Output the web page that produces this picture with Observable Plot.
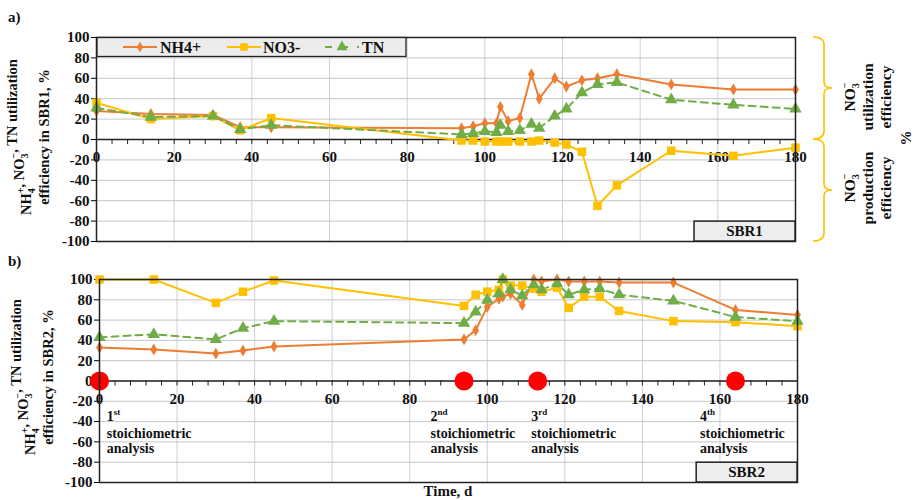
<!DOCTYPE html>
<html><head><meta charset="utf-8">
<script src="https://cdn.jsdelivr.net/npm/d3@7"></script>
<script src="https://cdn.jsdelivr.net/npm/@observablehq/plot@0.6"></script>
<style>
body{margin:0;background:#fff;}
#wrap{position:relative;width:917px;height:500px;font-family:"Liberation Serif",serif;}
#wrap svg{position:absolute;left:0;overflow:visible;background:none;}
#wrap svg text{font-family:"Liberation Serif",serif !important;font-weight:bold;}
</style></head><body><div id="wrap"></div>
<script>
// ---------- data ----------
const days     = [0,14,30,37,45,94,97,100,103,104,106,109,112,114,118,121,125,129,134,148,164,180];
const nh4SBR1  = [28,25,24,12,12,11,13,16,16,32,18,21,64,40,60,52,58,60,64,54,49,49];
const no3SBR1  = [36,20,23,9,21,-1,-1,-2,-2,-2,-2,-2,-2,-1,-3,-5,-12,-65,-45,-11,-16,-8];
const tnSBR1   = [31,22,23,10,14,5,6,8,7,14,8,9,15,11,23,30,46,54,56,39,34,30];
const nh4SBR2  = [33,31,27,30,34,41,50,73,81,83,86,75,100,98,100,98,98,98,97,97,70,65];
const no3SBR2  = [100,100,77,88,99,74,85,88,90,100,94,94,91,88,92,72,83,83,69,59,58,54];
const tnSBR2   = [43,46,41,52,59,57,68,80,86,100,90,84,95,90,96,85,90,91,85,79,63,59];
const seriesNames = ["NH4+","NO3-","TN"];
const xTicks = [0,20,40,60,80,100,120,140,160,180];
const yTicks = [-100,-80,-60,-40,-20,0,20,40,60,80,100];
const minorTicks = d3.range(0,181,4);
const analysisDays = [0,94,113,164];
const ordinalNums = ["1","2","3","4"];
const ordinalSuffix = ["st","nd","rd","th"];
const analysisLabelDays = [2,85.5,111.5,155];

// ---------- style ----------
const colors = ["#ED7D31","#FFC000","#70AD47"];
const symbols = ["diamond","square","triangle"];
const radii = [3.6,4.8,4.6];
const FONT = "Liberation Serif";

function rows(vals){ return days.map((d,i)=>({day:d, v:vals[i]})); }

function makePanel(series, cfg){
  const marks = [
    Plot.gridX(xTicks.slice(1,-1), {stroke:"#c9d0e0", strokeOpacity:1}),
    Plot.gridY(yTicks.slice(1,-1), {stroke:"#c6c6c6", strokeOpacity:1}),
    Plot.ruleY([0], {stroke:"#222", strokeWidth:1.3}),
    Plot.ruleX(minorTicks, {x:d=>d, y1:0, y2:-5, stroke:"#222", strokeWidth:1}),
    Plot.axisY({ticks:yTicks, tickFormat:d=>String(d), tickSize:5, tickPadding:2, label:null, fontSize:15, fontWeight:"bold", fontFamily:FONT, fill:"#111"}),
    Plot.text(xTicks, {x:d=>d, y:0, dy:18, text:d=>String(d), fontSize:15, fontWeight:"bold", fontFamily:FONT, fill:"#111"}),
  ];
  series.forEach((vals,i)=>{
    marks.push(Plot.line(rows(vals), {x:"day", y:"v", stroke:colors[i], strokeWidth:2, strokeDasharray: i===2 ? "7,5" : null}));
  });
  series.forEach((vals,i)=>{
    marks.push(Plot.dot(rows(vals), {x:"day", y:"v", symbol:symbols[i], r:radii[i], fill:colors[i], stroke:null}));
  });
  if (cfg.events) marks.push(Plot.dot(analysisDays, {x:d=>d, y:0, r:9.5, fill:"#ff0000"}));
  marks.push(Plot.frame({stroke:"#222", strokeWidth:1.5}));
  return Plot.plot({
    width:917, height:cfg.height,
    marginLeft:cfg.ml, marginRight:cfg.mr, marginTop:cfg.mt, marginBottom:cfg.mb,
    x:{domain:[0,180], axis:null},
    y:{domain:[-100,100], axis:null},
    style:{fontFamily:FONT, background:"none", overflow:"visible"},
    marks
  });
}

const wrap = d3.select("#wrap");

function txt(sel){
  return sel.append("text").attr("font-family",FONT).attr("font-weight","bold").attr("fill","#111");
}

// chemical formula with stacked sub/superscript
function chem(parent, base, sub, sup){
  parent.append("tspan").text(base);
  parent.append("tspan").attr("font-size",10).attr("dy",4).text(sub);
  parent.append("tspan").attr("font-size",10).attr("dx",-5).attr("dy",-11).text(sup);
  parent.append("tspan").attr("dy",7).text("");
}

function yTitle(svg, cx, cy, sbr){
  const t = txt(svg).attr("transform",`translate(${cx},${cy}) rotate(-90)`)
    .attr("text-anchor","middle").attr("font-size",14.5);
  const l1 = t.append("tspan").attr("x",0).attr("y",0);
  chem(l1, "NH", "4", "+");
  l1.append("tspan").text(", ");
  chem(l1, "NO", "3", "\u2212");
  l1.append("tspan").text(", TN utilization");
  t.append("tspan").attr("x",0).attr("y",18).text(`efficiency in ${sbr}, %`);
}

function sbrBox(svg, chart, name){
  const x = chart.scale("x").apply, y = chart.scale("y").apply;
  const x0=x(154), x1=x(180), y0=y(-80.5), y1=y(-100);
  svg.append("rect").attr("x",x0).attr("y",y0).attr("width",x1-x0).attr("height",y1-y0)
    .attr("fill","#eeeeee").attr("stroke","#222").attr("stroke-width",1.5);
  txt(svg).attr("x",(x0+x1)/2).attr("y",(y0+y1)/2+5).attr("text-anchor","middle").attr("font-size",15).text(name);
}

// ---------- panel a ----------
const chartA = makePanel([nh4SBR1,no3SBR1,tnSBR1], {height:248, ml:96, mr:122, mt:37, mb:7});
chartA.style.top = "0px";
wrap.node().appendChild(chartA);
const sA = d3.select(chartA);
txt(sA).attr("x",8).attr("y",22).attr("text-anchor","start").attr("font-size",15).text("a)");
yTitle(sA, 31, 137, "SBR1");
sbrBox(sA, chartA, "SBR1");
// legend
{
  const g = sA.append("g");
  g.append("rect").attr("x",97).attr("y",37.5).attr("width",309).attr("height",19).attr("fill","#ececec").attr("stroke","#222").attr("stroke-width",1.3);
  const items = [{x0:123,tx:160},{x0:227,tx:263},{x0:325,tx:362}];
  items.forEach((it,i)=>{
    g.append("line").attr("x1",it.x0).attr("x2",it.x0+34).attr("y1",47).attr("y2",47)
      .attr("stroke",colors[i]).attr("stroke-width",2).attr("stroke-dasharray", i===2?"7,9":null);
    g.append("path").attr("transform",`translate(${it.x0+17},47)`)
      .attr("d", d3.symbol(i===0?d3.symbolDiamond:i===1?d3.symbolSquare:d3.symbolTriangle, Math.PI*radii[i]*radii[i]*0.8)())
      .attr("fill",colors[i]);
    txt(g).attr("x",it.tx).attr("y",52.5).attr("text-anchor","start").attr("font-size",16).text(seriesNames[i]);
  });
}
// right braces and labels
{
  const y = chartA.scale("y").apply;
  const brace = (top, bot) => {
    const mid=(top+bot)/2;
    return `M813,${top} Q824,${top} 824,${top+8} L824,${mid-6} Q824,${mid} 832,${mid} Q824,${mid} 824,${mid+6} L824,${bot-8} Q824,${bot} 813,${bot}`;
  };
  sA.append("path").attr("d",brace(y(100),y(0))).attr("fill","none").attr("stroke","#FFC000").attr("stroke-width",1.6);
  sA.append("path").attr("d",brace(y(0),y(-100))).attr("fill","none").attr("stroke","#FFC000").attr("stroke-width",1.6);
  const sideText = (cy, word) => {
    const t = txt(sA).attr("transform",`translate(855,${cy}) rotate(-90)`).attr("text-anchor","middle").attr("font-size",15.5);
    const l = t.append("tspan").attr("x",0).attr("y",0);
    chem(l, "NO", "3", "\u2212");
    t.append("tspan").attr("x",0).attr("y",18).text(word);
    t.append("tspan").attr("x",0).attr("y",36).text("efficiency");
  };
  sideText(97, "utilization");
  sideText(188, "production");
  txt(sA).attr("transform",`translate(911,138) rotate(-90)`).attr("text-anchor","middle").attr("font-size",15).text("%");
}

// ---------- panel b ----------
const chartB = makePanel([nh4SBR2,no3SBR2,tnSBR2], {height:252, ml:99, mr:120, mt:31, mb:18, events:true});
chartB.style.top = "248px";
wrap.node().appendChild(chartB);
{
  const sB = d3.select(chartB);
  txt(sB).attr("x",8).attr("y",18).attr("text-anchor","start").attr("font-size",15).text("b)");
  yTitle(sB, 35, 129, "SBR2");
  sbrBox(sB, chartB, "SBR2");
  const x = chartB.scale("x").apply, y = chartB.scale("y").apply;
  analysisLabelDays.forEach((d,i)=>{
    const t = txt(sB).attr("text-anchor","start").attr("font-size",14);
    const l = t.append("tspan").attr("x",x(d)).attr("y",y(0)+40);
    l.append("tspan").text(ordinalNums[i]);
    l.append("tspan").attr("font-size",9).attr("dy",-6).text(ordinalSuffix[i]);
    t.append("tspan").attr("x",x(d)).attr("y",y(0)+57).text("stoichiometric");
    t.append("tspan").attr("x",x(d)).attr("y",y(0)+72).text("analysis");
  });
  txt(sB).attr("x",448).attr("y",248).attr("text-anchor","middle").attr("font-size",15).text("Time, d");
}
</script>
</body></html>
